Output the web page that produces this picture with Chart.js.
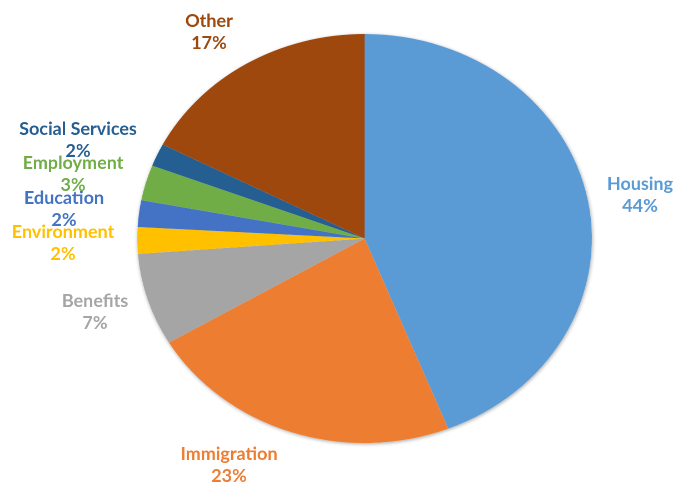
<!DOCTYPE html>
<html>
<head>
<meta charset="utf-8">
<script src="https://cdn.jsdelivr.net/npm/chart.js@4.4.0/dist/chart.umd.min.js"></script>
<style>
  html, body { margin: 0; padding: 0; background: #fff; }
</style>
</head>
<body>
<canvas id="pie" width="610" height="482" style="display:block;width:678px;height:482px"></canvas>
<script>
// data
const categories = ['Housing', 'Immigration', 'Benefits', 'Environment', 'Education', 'Employment', 'Social Services', 'Other'];
const shares = [44.0, 22.5, 7.3, 2.1, 2.1, 2.8, 1.8, 17.4];
const sliceColors = ['#5B9BD5', '#ED7D31', '#A5A5A5', '#FFC000', '#4472C4', '#70AD47', '#255E91', '#9E480E'];

// the original pie is a little wider than tall, so the canvas is stretched sideways
const stretchX = 678 / 610;

// where each label sits on the page (centre of the two lines)
const labelSpots = [
    [640, 195], [229, 465], [95, 312], [63, 243],
    [64, 209], [73, 174], [78, 140], [209, 32]
];

const shadowPlugin = {
    id: 'pieShadow',
    beforeDatasetsDraw(chart) {
        const arc = chart.getDatasetMeta(0).data[0];
        if (!arc) return;
        const ctx = chart.ctx;
        ctx.save();
        ctx.beginPath();
        ctx.arc(arc.x, arc.y, arc.outerRadius, 0, Math.PI * 2);
        ctx.fillStyle = '#fff';
        ctx.shadowColor = 'rgba(0,0,0,0.35)';
        ctx.shadowBlur = 7;
        ctx.shadowOffsetX = 1;
        ctx.shadowOffsetY = 2;
        ctx.fill();
        ctx.restore();
    }
};

const labelPlugin = {
    id: 'pieLabels',
    afterDraw(chart) {
        const ctx = chart.ctx;
        ctx.save();
        ctx.font = 'bold 18px Lato';
        ctx.textAlign = 'center';
        ctx.textBaseline = 'middle';
        categories.forEach((name, i) => {
            const [px, py] = labelSpots[i];
            ctx.save();
            ctx.translate(px / stretchX, py);
            ctx.scale(1 / stretchX, 1);
            ctx.fillStyle = sliceColors[i];
            ctx.fillText(name, 0, -11);
            ctx.fillText(Math.round(shares[i]) + '%', 0, 11);
            ctx.restore();
        });
        ctx.restore();
    }
};

new Chart(document.getElementById('pie'), {
    type: 'pie',
    data: {
        labels: categories,
        datasets: [{
            data: shares,
            backgroundColor: sliceColors,
            borderWidth: 0
        }]
    },
    options: {
        responsive: false,
        animation: false,
        devicePixelRatio: 2,
        layout: { padding: { left: 123.5, right: 77.5, top: 34, bottom: 39 } },
        plugins: {
            legend: { display: false },
            tooltip: { enabled: false }
        }
    },
    plugins: [shadowPlugin, labelPlugin]
});
</script>
</body>
</html>
